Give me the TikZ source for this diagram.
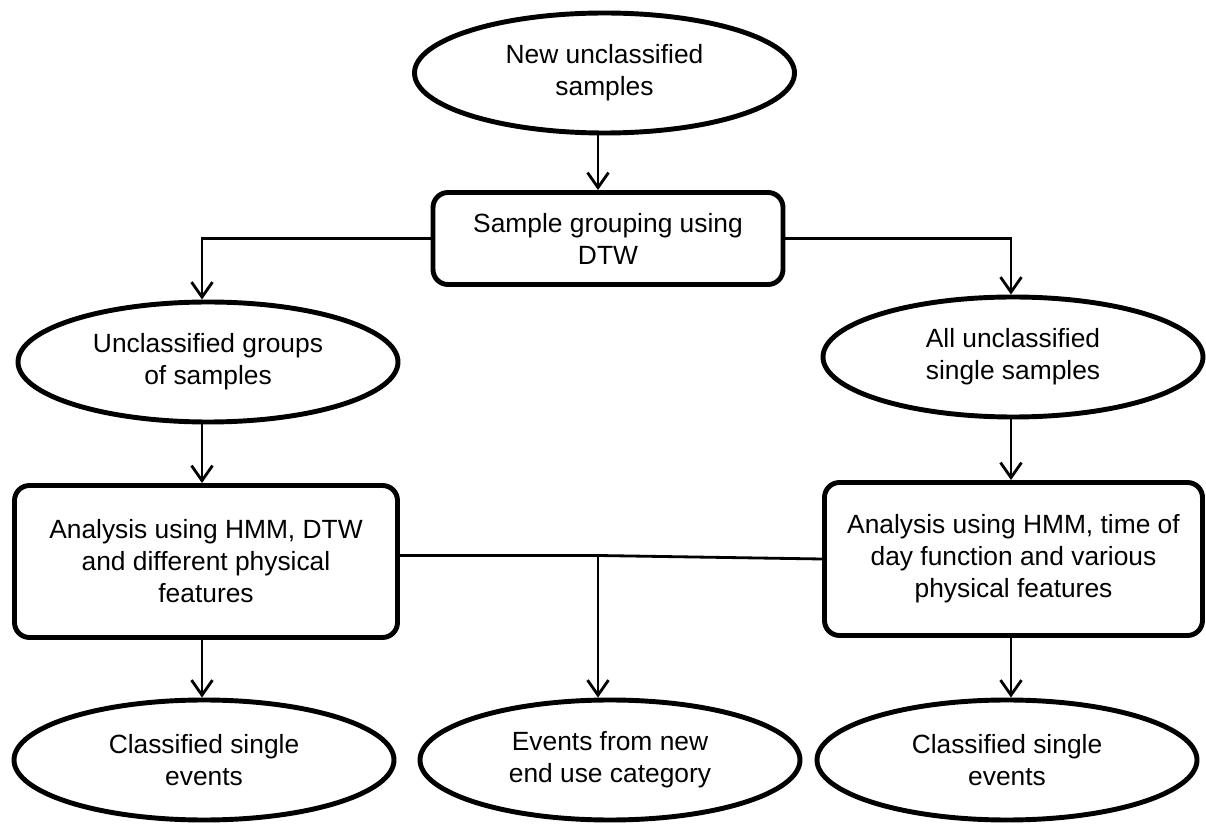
\documentclass[tikz,border=0pt]{standalone}
\usepackage{fontspec}
\setmainfont{Liberation Sans}
\usetikzlibrary{shapes.geometric,arrows.meta}

\begin{document}
\begin{tikzpicture}
    \tikzset{%
      oval/.style={ellipse, draw, line width=2.8pt, align=center,
        inner sep=0pt, minimum width=7.6cm, minimum height=2.4cm,
        font=\fontsize{15}{18.2}\selectfont},
      stepbox/.style={rectangle, rounded corners=0.3cm, draw,
        line width=2.8pt, align=center, inner sep=0pt,
        font=\fontsize{15}{18.2}\selectfont},
      flow/.style={line width=1.6pt,
        -{Straight Barb[length=0.3cm, width=0.42cm, line width=1.6pt]}},
      link/.style={line width=1.6pt},
    }
    \useasboundingbox (0,0) rectangle (24.12,-16.52);
    % columns of the arrows
    \coordinate (lcol) at (4.04,0);
    \coordinate (ccol) at (11.96,0);
    \coordinate (rcol) at (20.22,0);
    % top
    \node[oval] (new) at (12.09,-1.46) {New unclassified\\samples};
    \node[stepbox, minimum width=7.0cm, minimum height=1.84cm] (group) at (12.16,-4.77)
      {Sample grouping using\\DTW};
    \draw [flow] (new.south -| ccol) -- (group.north -| ccol);
    % left branch
    \node[oval] (grps) at (4.16,-7.24) {Unclassified groups\\of samples};
    \node[stepbox, minimum width=7.66cm, minimum height=3.04cm] (lbox) at (4.12,-11.23)
      {Analysis using HMM, DTW\\and different physical\\features};
    \node[oval] (lcls) at (4.08,-15.2) {Classified single\\events};
    \draw [flow] (group.west) -| (grps.north -| lcol);
    \draw [flow] (grps.south -| lcol) -- (lbox.north -| lcol);
    \draw [flow] (lbox.south -| lcol) -- (lcls.north -| lcol);
    % right branch
    \node[oval] (sing) at (20.26,-7.14) {All unclassified\\single samples};
    \node[stepbox, minimum width=7.56cm, minimum height=3.06cm] (rbox) at (20.27,-11.18)
      {Analysis using HMM, time of\\day function and various\\physical features};
    \node[oval] (rcls) at (20.14,-15.2) {Classified single\\events};
    \draw [flow] (group.east) -| (sing.north -| rcol);
    \draw [flow] (sing.south -| rcol) -- (rbox.north -| rcol);
    \draw [flow] (rbox.south -| rcol) -- (rcls.north -| rcol);
    % new category
    \node[oval] (newcat) at (12.2,-15.2) {Events from new\\end use category};
    \coordinate (mid) at (11.96,-11.11);
    \draw [link] (lbox.east |- mid) -- (mid) -- (rbox.west);
    \draw [flow] (mid) -- (newcat.north -| mid);
\end{tikzpicture}
\end{document}
